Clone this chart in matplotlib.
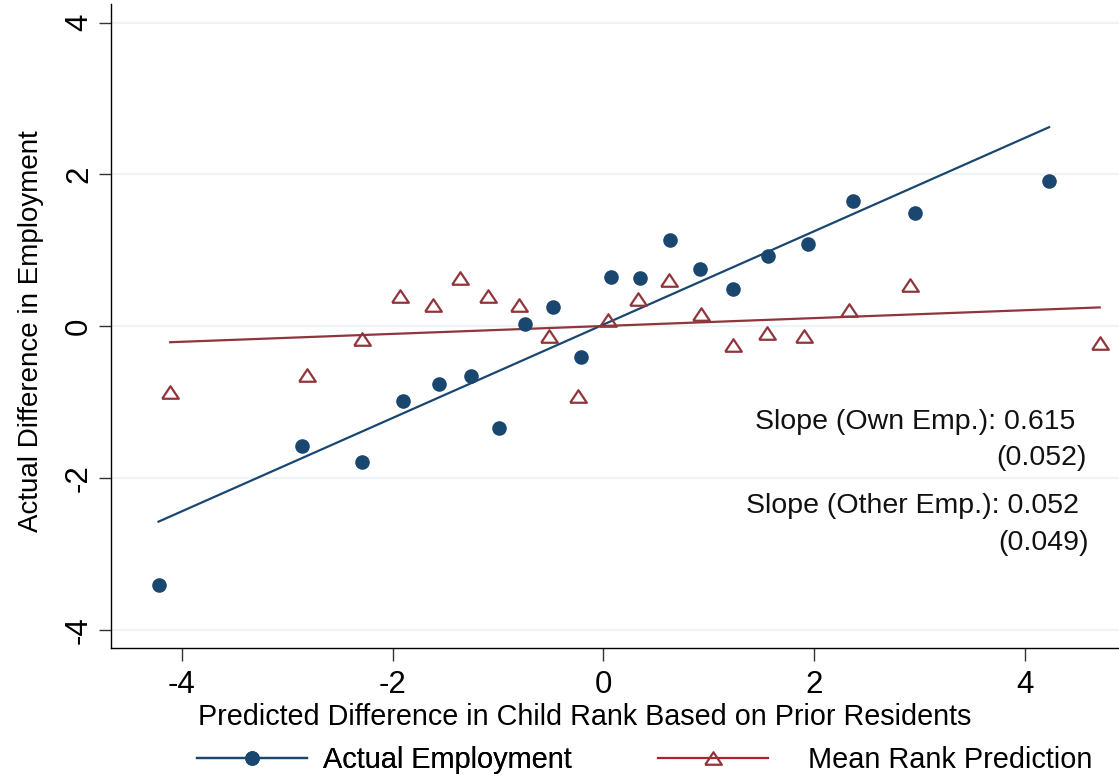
import matplotlib
matplotlib.use("Agg")
import matplotlib.pyplot as plt
from matplotlib.lines import Line2D
import numpy as np

plt.rcParams['font.family'] = ['Liberation Sans', 'DejaVu Sans']

# Data: Actual Employment (blue circles)
emp_x = [-4.22, -2.86, -2.29, -1.90, -1.56, -1.26, -0.99, -0.74, -0.48, -0.21,
         0.07, 0.35, 0.63, 0.92, 1.23, 1.56, 1.94, 2.37, 2.96, 4.23]
emp_y = [-3.41, -1.58, -1.79, -0.98, -0.76, -0.66, -1.34, 0.03, 0.26, -0.40,
         0.65, 0.64, 1.14, 0.75, 0.49, 0.93, 1.08, 1.65, 1.49, 1.92]

# Data: Mean Rank Prediction (red triangles)
rank_x = [-4.11, -2.81, -2.29, -1.93, -1.62, -1.36, -1.09, -0.80, -0.52, -0.24,
          0.04, 0.33, 0.62, 0.93, 1.23, 1.55, 1.90, 2.33, 2.91, 4.71]
rank_y = [-0.87, -0.64, -0.17, 0.40, 0.28, 0.63, 0.40, 0.28, -0.13, -0.92,
          0.08, 0.36, 0.61, 0.16, -0.24, -0.09, -0.13, 0.21, 0.54, -0.22]

# Fitted lines
emp_slope, emp_intercept = 0.615, 0.022
rank_slope, rank_intercept = 0.052, 0.004

annot_lines = ["Slope (Own Emp.): 0.615", "(0.052)",
               "Slope (Other Emp.): 0.052", "(0.049)"]

legend_labels = ["Actual Employment", "Mean Rank Prediction"]

xticks = [-4, -2, 0, 2, 4]
yticks = [-4, -2, 0, 2, 4]

BLUE = '#1a476f'
RED = '#90353b'
RED_LEG = '#b0222b'

W, H = 1119, 783
fig = plt.figure(figsize=(W / 100, H / 100), dpi=100)
ax_l, ax_r, ax_b, ax_t = 110.7, 1119, 648, 4
ax = fig.add_axes([ax_l / W, 1 - ax_b / H, (ax_r - ax_l) / W, (ax_b - ax_t) / H])
ax.set_xlim(-4.674, 4.893)
ax.set_ylim(-4.238, 4.246)

for yt in yticks:
    ax.axhline(yt, color='#eaf2f3', lw=1.2, zorder=0)

tri = [(-1, -0.75), (1, -0.75), (0, 0.75), (-1, -0.75)]

ex = np.array(emp_x)
rx = np.array(rank_x)
xl = np.array([ex.min(), ex.max()])
ax.plot(xl, emp_intercept + emp_slope * xl, color=BLUE, lw=1.6, zorder=2)
rl = np.array([rx.min(), rx.max()])
ax.plot(rl, rank_intercept + rank_slope * rl, color=RED, lw=1.6, zorder=2)

ax.plot(emp_x, emp_y, linestyle='none', marker='o', ms=10.5, color=BLUE,
        markeredgewidth=0, zorder=3)
ax.plot(rank_x, rank_y, linestyle='none', marker=tri, ms=12, markerfacecolor='none',
        markeredgecolor=RED, markeredgewidth=1.6, zorder=3)

ax.spines['top'].set_visible(False)
ax.spines['right'].set_visible(False)
for s in ['left', 'bottom']:
    ax.spines[s].set_color('#000000')
    ax.spines[s].set_linewidth(1.0)

ax.set_xticks(xticks)
ax.set_yticks(yticks)
ax.set_xticklabels([str(v) for v in xticks])
ax.set_yticklabels([str(v) for v in yticks], rotation=90, va='center')
ax.tick_params(axis='both', direction='out', length=9, width=1.0, color='#333333',
               labelsize=22.5)
ax.tick_params(axis='x', pad=7)
ax.tick_params(axis='y', pad=3)

ax.set_xlabel("Predicted Difference in Child Rank Based on Prior Residents", fontsize=20.7)
ax.xaxis.set_label_coords((584.5 - ax_l) / (ax_r - ax_l), (ax_b - 717) / (ax_b - ax_t))
ax.xaxis.label.set_va('center')
ax.set_ylabel("Actual Difference in Employment", fontsize=20)
ax.yaxis.set_label_coords((31 - ax_l) / (ax_r - ax_l), (ax_b - 331) / (ax_b - ax_t))
ax.yaxis.label.set_va('center')

# annotations (data coords)
px2x = lambda p: (p - 603.3) / 105.4
px2y = lambda p: (326.3 - p) / 75.9
ann_pos = [(1075, 429.3), (1086.7, 465), (1079, 513.3), (1088.3, 550)]
for txt, (px, py) in zip(annot_lines, ann_pos):
    ax.text(px2x(px), px2y(py), txt, ha='right', va='baseline', fontsize=20.5,
            color='#111111')

h_emp = Line2D([], [], color=BLUE, lw=1.6, marker='o', ms=10.5, markeredgewidth=0)
h_rank = Line2D([], [], color=RED_LEG, lw=1.6, marker=tri, ms=12, markerfacecolor='none',
                markeredgecolor=RED, markeredgewidth=1.6)
common = dict(loc='center left', frameon=False, fontsize=20.8, handlelength=3.8,
              borderpad=0, borderaxespad=0, numpoints=1)
leg1 = fig.legend([h_emp], [legend_labels[0]], bbox_to_anchor=(197 / W, 1 - 760 / H),
                  handletextpad=0.55, **common)
fig.add_artist(leg1)
fig.legend([h_rank], [legend_labels[1]], bbox_to_anchor=(658 / W, 1 - 760 / H),
           handletextpad=1.38, **common)

fig.savefig("out.png", dpi=100)
